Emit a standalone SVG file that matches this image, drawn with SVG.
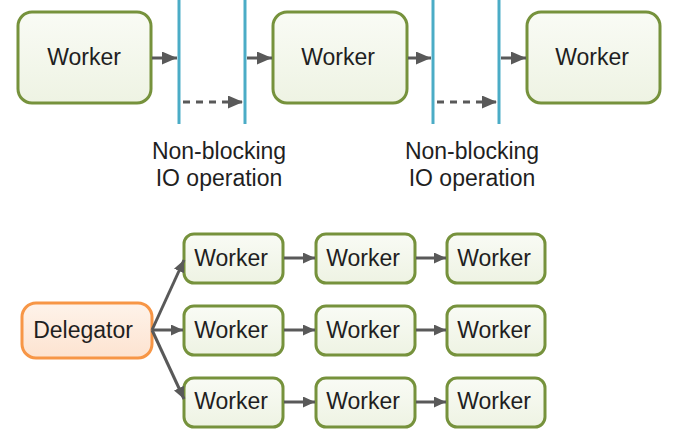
<svg xmlns="http://www.w3.org/2000/svg" width="681" height="444" viewBox="0 0 681 444">
<defs>
<linearGradient id="gG" x1="0" y1="0" x2="0" y2="1">
<stop offset="0" stop-color="#f9fbf5"/>
<stop offset="1" stop-color="#eef3e3"/>
</linearGradient>
<linearGradient id="gO" x1="0" y1="0" x2="0" y2="1">
<stop offset="0" stop-color="#fef3ea"/>
<stop offset="1" stop-color="#fde3d0"/>
</linearGradient>
<marker id="ah" viewBox="0 0 12 11" refX="12" refY="5.5" markerWidth="12" markerHeight="11" markerUnits="userSpaceOnUse" orient="auto">
<path d="M0,0 L12,5.5 L0,11 Z" fill="#595959"/>
</marker>
<marker id="ahL" viewBox="0 0 15 13" refX="15" refY="6.5" markerWidth="15" markerHeight="13" markerUnits="userSpaceOnUse" orient="auto">
<path d="M0,0 L15,6.5 L0,13 Z" fill="#595959"/>
</marker>
</defs>
<style>
.w{fill:url(#gG);stroke:#76923c;stroke-width:3}
.d{fill:url(#gO);stroke:#f79646;stroke-width:3}
.t{font-family:"Liberation Sans",Arial,sans-serif;font-size:23px;fill:#1f1f1f;text-anchor:middle}
.lb{font-family:"Liberation Sans",Arial,sans-serif;font-size:23px;fill:#1f1f1f;text-anchor:middle}
.c{stroke:#595959;stroke-width:3;fill:none}
.io{stroke:#4bacc6;stroke-width:3}
</style>
<g id="io-lines">
<line class="io" x1="179" y1="0" x2="179" y2="124"/>
<line class="io" x1="245" y1="0" x2="245" y2="124"/>
<line class="io" x1="433" y1="0" x2="433" y2="124"/>
<line class="io" x1="499" y1="0" x2="499" y2="124"/>
</g>
<g id="top-w1"><rect class="w" x="18" y="12" width="133" height="91" rx="14"/><text class="t" x="84" y="65">Worker</text></g>
<g id="top-w2"><rect class="w" x="273" y="12" width="134" height="91" rx="14"/><text class="t" x="338" y="65">Worker</text></g>
<g id="top-w3"><rect class="w" x="527" y="12" width="133" height="91" rx="14"/><text class="t" x="592" y="65">Worker</text></g>
<g id="label1"><text class="lb" x="219" y="159">Non-blocking</text><text class="lb" x="219" y="186">IO operation</text></g>
<g id="label2"><text class="lb" x="472" y="159">Non-blocking</text><text class="lb" x="472" y="186">IO operation</text></g>
<g id="delegator"><rect class="d" x="22" y="303" width="130" height="55" rx="14"/><text class="t" x="83" y="338">Delegator</text></g>
<g id="w11"><rect class="w" x="184" y="234" width="99" height="49" rx="10"/><text class="t" x="231" y="266">Worker</text></g>
<g id="w12"><rect class="w" x="316" y="234" width="99" height="49" rx="10"/><text class="t" x="363" y="266">Worker</text></g>
<g id="w13"><rect class="w" x="447" y="234" width="98" height="49" rx="10"/><text class="t" x="494" y="266">Worker</text></g>
<g id="w21"><rect class="w" x="184" y="306" width="99" height="49" rx="10"/><text class="t" x="231" y="338">Worker</text></g>
<g id="w22"><rect class="w" x="316" y="306" width="99" height="49" rx="10"/><text class="t" x="363" y="338">Worker</text></g>
<g id="w23"><rect class="w" x="447" y="306" width="98" height="49" rx="10"/><text class="t" x="494" y="338">Worker</text></g>
<g id="w31"><rect class="w" x="184" y="378" width="99" height="49" rx="10"/><text class="t" x="231" y="409">Worker</text></g>
<g id="w32"><rect class="w" x="316" y="378" width="99" height="49" rx="10"/><text class="t" x="363" y="409">Worker</text></g>
<g id="w33"><rect class="w" x="447" y="378" width="98" height="49" rx="10"/><text class="t" x="494" y="409">Worker</text></g>
<g id="connectors">
<line class="c" x1="152" y1="58" x2="177" y2="58" marker-end="url(#ahL)"/>
<line class="c" x1="247" y1="58" x2="272" y2="58" marker-end="url(#ahL)"/>
<line class="c" x1="408" y1="58" x2="431" y2="58" marker-end="url(#ahL)"/>
<line class="c" x1="501" y1="58" x2="526" y2="58" marker-end="url(#ahL)"/>
<line class="c" x1="183" y1="102" x2="243" y2="102" stroke-dasharray="7,6" marker-end="url(#ahL)"/>
<line class="c" x1="437" y1="102" x2="497" y2="102" stroke-dasharray="7,6" marker-end="url(#ahL)"/>
<line class="c" x1="152" y1="330" x2="184" y2="260" marker-end="url(#ah)"/>
<line class="c" x1="152" y1="330" x2="183" y2="330" marker-end="url(#ah)"/>
<line class="c" x1="152" y1="330" x2="184" y2="399" marker-end="url(#ah)"/>
<line class="c" x1="284" y1="258" x2="315" y2="258" marker-end="url(#ah)"/>
<line class="c" x1="416" y1="258" x2="446" y2="258" marker-end="url(#ah)"/>
<line class="c" x1="284" y1="330" x2="315" y2="330" marker-end="url(#ah)"/>
<line class="c" x1="416" y1="330" x2="446" y2="330" marker-end="url(#ah)"/>
<line class="c" x1="284" y1="402" x2="315" y2="402" marker-end="url(#ah)"/>
<line class="c" x1="416" y1="402" x2="446" y2="402" marker-end="url(#ah)"/>
</g>
</svg>
